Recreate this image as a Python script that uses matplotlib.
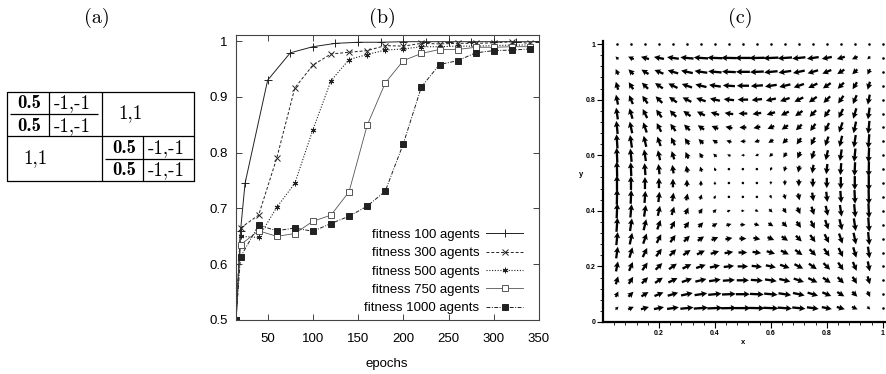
import numpy as np
import matplotlib
matplotlib.use("Agg")
import matplotlib.pyplot as plt

W, H, DPI = 887, 374, 100

# ---------------- panel (a): game table ----------------
off_diag_payoff = "1,1"
sub_row_payoffs = ["0.5", "0.5"]
sub_col_payoffs = ["-1,-1", "-1,-1"]
panel_titles = ["(a)", "(b)", "(c)"]

# ---------------- panel (b): fitness curves ----------------
epochs_100 = [15, 20, 25, 50, 75, 100, 125, 150, 175, 200, 225, 250, 275, 300, 325, 350]
fit_100 = [0.50, 0.660, 0.745, 0.930, 0.979, 0.990, 0.996, 0.998, 0.998, 0.999,
           0.999, 0.999, 0.999, 0.999, 0.999, 0.999]
epochs = [15, 20, 40, 60, 80, 100, 120, 140, 160, 180, 200, 220, 240, 260, 280, 300, 320, 340]
fit_300 = [0.50, 0.665, 0.688, 0.790, 0.916, 0.957, 0.977, 0.980, 0.983, 0.992,
           0.991, 0.996, 0.995, 0.996, 0.996, 0.997, 0.999, 0.996]
fit_500 = [0.50, 0.650, 0.648, 0.702, 0.745, 0.841, 0.929, 0.967, 0.976, 0.984,
           0.986, 0.990, 0.990, 0.991, 0.991, 0.992, 0.993, 0.993]
fit_750 = [0.50, 0.635, 0.660, 0.650, 0.655, 0.677, 0.688, 0.730, 0.849, 0.925,
           0.965, 0.978, 0.985, 0.985, 0.989, 0.989, 0.990, 0.990]
fit_1000 = [0.50, 0.613, 0.670, 0.660, 0.665, 0.659, 0.673, 0.686, 0.704, 0.731,
            0.816, 0.918, 0.958, 0.965, 0.979, 0.983, 0.984, 0.986]
series_labels = ["fitness 100 agents", "fitness 300 agents", "fitness 500 agents",
                 "fitness 750 agents", "fitness 1000 agents"]
xticks_b = [50, 100, 150, 200, 250, 300, 350]
yticks_b = [0.5, 0.6, 0.7, 0.8, 0.9, 1.0]
yticklabels_b = ["0.5", "0.6", "0.7", "0.8", "0.9", "1"]

# ---------------- panel (c): replicator vector field ----------------
payoff_same = 0.5     # value of the coordination sub-game (diagonal)
payoff_diff = 1.0     # off-diagonal payoff
grid_c = np.round(np.arange(1, 20) * 0.05, 2)      # 0.05 .. 0.95
edge_c = np.round(np.arange(1, 21) * 0.05, 2)      # 0.05 .. 1.0
xticks_c = [0.2, 0.4, 0.6, 0.8, 1.0]
xticklabels_c = ["0.2", "0.4", "0.6", "0.8", "1"]
yticks_c = [0, 0.2, 0.4, 0.6, 0.8, 1.0]
yticklabels_c = ["0", "0.2", "0.4", "0.6", "0.8", "1"]

fig = plt.figure(figsize=(W / DPI, H / DPI), dpi=DPI)
fig.patch.set_facecolor("white")

def fx(px):
    return px / W

def fy(py):
    return 1 - py / H

# ---------- panel (a) ----------
axa = fig.add_axes([0, 0, 1, 1])
axa.set_xlim(0, W)
axa.set_ylim(H, 0)
axa.axis("off")
axa.patch.set_alpha(0)
L, R, T, B = 7, 194, 92, 181
MX, MY = 102, 136
kw = dict(color="black", lw=0.9, solid_capstyle="butt")
axa.plot([L, R, R, L, L], [T, T, B, B, T], **kw)
axa.plot([L, R], [MY, MY], **kw)
axa.plot([MX, MX], [T, B], **kw)
axa.plot([49, 49], [T, MY], **kw)
axa.plot([10, 98], [114, 114], **kw)
axa.plot([143.5, 143.5], [MY, B], **kw)
axa.plot([105, 193], [158.5, 158.5], **kw)

fs_t = 13.5
for yb, s in zip([108, 131], sub_row_payoffs):
    axa.text(29, yb, s, family="cmb10", fontsize=fs_t, ha="center", va="baseline")
for yb, s in zip([108, 131], sub_col_payoffs):
    axa.text(72.5, yb, s, family="cmr10", fontsize=fs_t, ha="center", va="baseline")
for yb, s in zip([153, 175], sub_row_payoffs):
    axa.text(124, yb, s, family="cmb10", fontsize=fs_t, ha="center", va="baseline")
for yb, s in zip([153, 175], sub_col_payoffs):
    axa.text(166, yb, s, family="cmr10", fontsize=fs_t, ha="center", va="baseline")
axa.text(130.5, 118.5, off_diag_payoff, family="cmr10", fontsize=fs_t, ha="center", va="baseline")
axa.text(35, 163.5, off_diag_payoff, family="cmr10", fontsize=fs_t, ha="center", va="baseline")

axa.text(97, 18, panel_titles[0], family="cmr10", fontsize=14.5, ha="center", va="center")
axa.text(382, 18, panel_titles[1], family="cmr10", fontsize=14.5, ha="center", va="center")
axa.text(740, 18, panel_titles[2], family="cmr10", fontsize=14.5, ha="center", va="center")

# ---------- panel (b) ----------
bl, bt, br, bb = 236, 35, 539, 320
axb = fig.add_axes([fx(bl), fy(bb), (br - bl) / W, (bb - bt) / H])
axb.set_xlim(15, 350)
axb.set_ylim(0.5, 1.011)
lc = "#222222"
styles = [
    dict(ls="-", marker="+", ms=6, color=lc, lw=0.7),
    dict(ls=(0, (3, 2)), marker="x", ms=4, color=lc, lw=0.7),
    dict(ls=(0, (1, 1.5)), marker=(6, 2, 0), ms=4, color=lc, lw=0.8),
    dict(ls="-", marker="s", ms=4, color="#555555", mfc="white", lw=0.6),
    dict(ls=(0, (4, 1.5, 1, 1.5)), marker="s", ms=4, color=lc, lw=0.7),
]
data = [(epochs_100, fit_100), (epochs, fit_300), (epochs, fit_500),
        (epochs, fit_750), (epochs, fit_1000)]
handles = []
for (xs, ys), st, lab in zip(data, styles, series_labels):
    h, = axb.plot(xs, ys, mew=0.7, label=lab, **st)
    handles.append(h)
axb.set_xticks(xticks_b)
axb.set_xticklabels([str(v) for v in xticks_b])
axb.set_yticks(yticks_b)
axb.set_yticklabels(yticklabels_b)
tfont = "Liberation Sans"
for lab in axb.get_xticklabels() + axb.get_yticklabels():
    lab.set_family(tfont)
axb.tick_params(direction="in", length=4, width=0.7, top=True, right=True,
                labelsize=9.5, color="#444444")
axb.tick_params(axis="x", pad=9)
axb.tick_params(axis="y", pad=6)
for sp in axb.spines.values():
    sp.set_linewidth(0.8)
    sp.set_color("#444444")
axb.legend(handles=handles, markerfirst=False, frameon=False, loc="lower right",
           bbox_to_anchor=((523 - bl) / (br - bl), 0.02), borderpad=0,
           borderaxespad=0, handlelength=2.8, handletextpad=0.5,
           labelspacing=0.46, numpoints=1, prop={"family": tfont, "size": 9.5})
fig.text(fx(387), fy(364), "epochs", family=tfont, fontsize=9.5, ha="center", va="center")

# ---------- panel (c) ----------
cl, ct, cr, cb = 603, 40.7, 885, 322
axc = fig.add_axes([fx(cl), fy(cb), (cr - cl) / W, (cb - ct) / H])
axc.set_xlim(0, 1.008)
axc.set_ylim(0, 1.012)
X, Y = np.meshgrid(grid_c, grid_c)
gain = payoff_diff - payoff_same
U = X * (1 - X) * gain * (1 - 2 * Y)
V = Y * (1 - Y) * gain * (1 - 2 * X)
M = np.hypot(U, V).max()
axc.quiver(X, Y, U, V, angles="xy", scale_units="xy", scale=M / 0.056, pivot="middle",
           width=0.0082, headwidth=2.7, headlength=2.6, headaxislength=2.3,
           minshaft=1.2, minlength=1.2, color="black")
axc.scatter(edge_c, np.ones_like(edge_c), s=3.5, color="black", lw=0)
axc.scatter(np.ones_like(grid_c), grid_c, s=3.5, color="black", lw=0)
for s in ["top", "right"]:
    axc.spines[s].set_visible(False)
for s in ["left", "bottom"]:
    axc.spines[s].set_linewidth(1.6)
axc.set_xticks(xticks_c)
axc.set_xticklabels(xticklabels_c)
axc.set_yticks(yticks_c)
axc.set_yticklabels(yticklabels_c)
axc.set_xticks(np.round(np.arange(0, 26) * 0.04, 2)[1:], minor=True)
axc.set_yticks(np.round(np.arange(0, 26) * 0.04, 2)[1:], minor=True)
axc.tick_params(which="major", direction="out", length=4, width=0.8, labelsize=5, pad=1.5)
axc.tick_params(which="minor", direction="out", length=2, width=0.6)
for lab in axc.get_xticklabels() + axc.get_yticklabels():
    lab.set_family(tfont)
    lab.set_fontweight("bold")
fig.text(fx(743), fy(343), "x", family=tfont, fontweight="bold", fontsize=5.5, ha="center", va="center")
fig.text(fx(581), fy(174), "y", family=tfont, fontweight="bold", fontsize=5.5, ha="center", va="center")

fig.savefig("out.png", dpi=DPI, facecolor="white")
